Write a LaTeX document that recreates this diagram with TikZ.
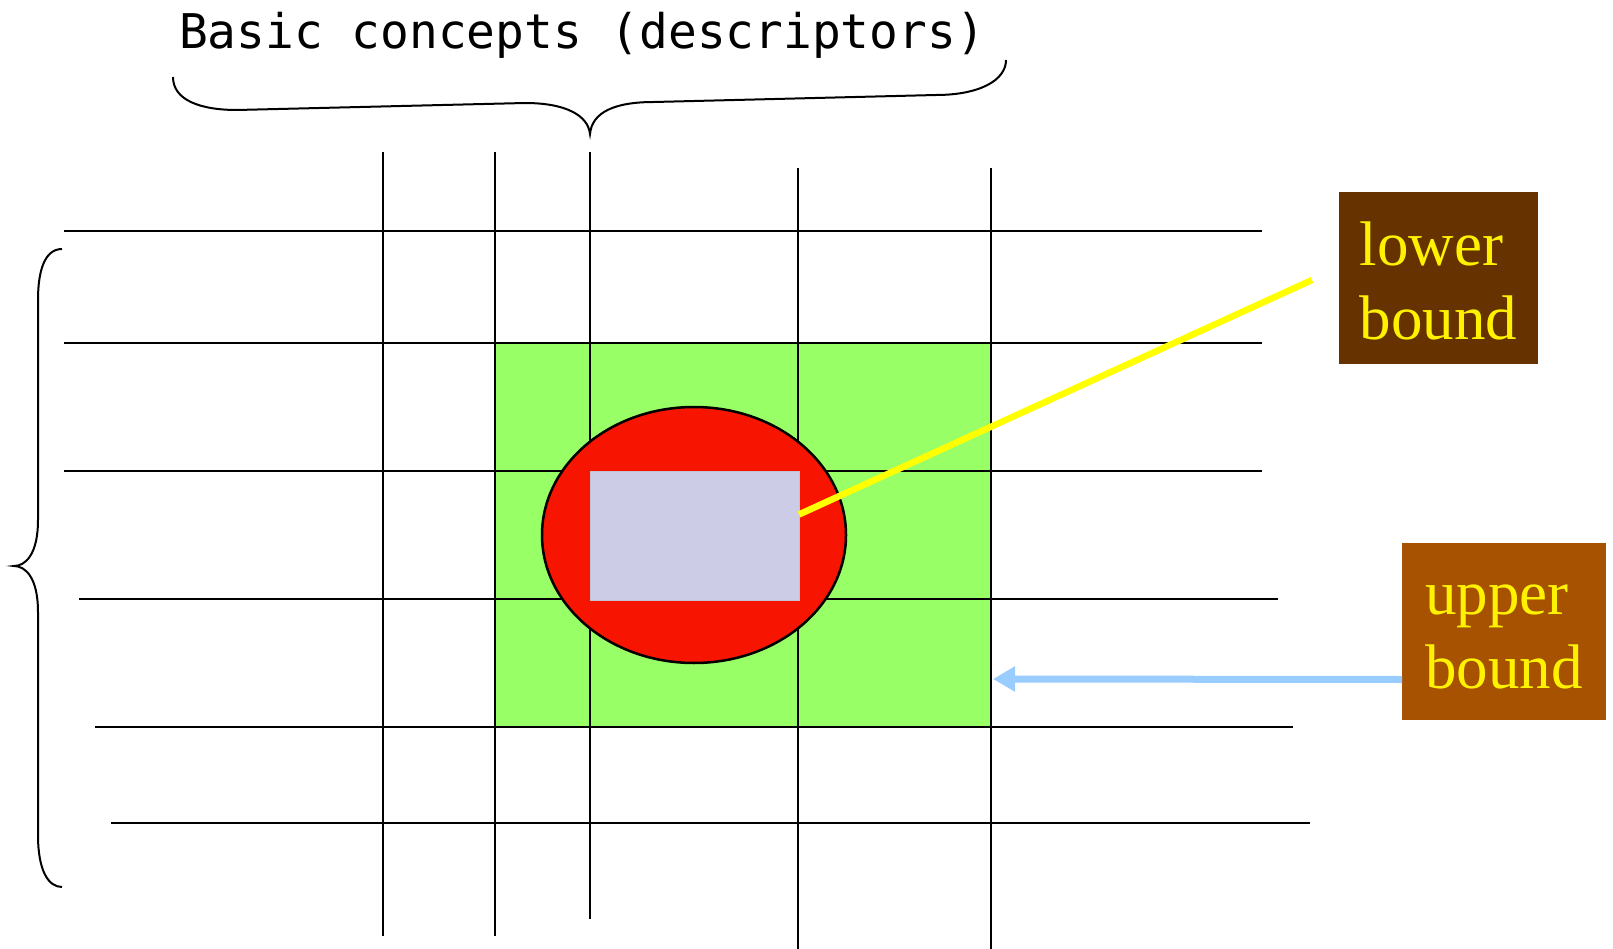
\documentclass[tikz,border=0pt]{standalone}
\usepackage{fontspec}
\setmainfont{Liberation Serif}
\newfontfamily\titlefont{DejaVu Sans Mono}
\usepackage{tikz}
\usetikzlibrary{positioning,calc,shapes.geometric,arrows.meta}
\definecolor{upfill}{HTML}{99FF66}
\definecolor{concept}{HTML}{F71400}
\definecolor{lowfill}{HTML}{CCCCE6}
\definecolor{lowbox}{HTML}{663300}
\definecolor{upbox}{HTML}{A65200}
\definecolor{ubline}{HTML}{99CCFF}
\definecolor{lbline}{HTML}{FFFF00}

\begin{document}
\begin{tikzpicture}[x=1pt, y=-1pt,
    grid/.style={line width=2.5pt, black},
    brace/.style={line width=2pt, black},
    region/.style={inner sep=0pt, outer sep=0pt},
    bndlbl/.style={inner sep=0pt, outer sep=0pt, align=left, text=yellow,
                   font=\fontsize{63}{74}\selectfont},
    lbarrow/.style={line width=6.5pt, lbline},
    ubarrow/.style={line width=7pt, ubline, -{Triangle[length=22pt, width=24pt]}}
  ]
    \useasboundingbox (0,0) rectangle (1613,949);

    \node[region, fill=upfill, minimum width=496pt, minimum height=384pt] (upper) at (743,535) {};

    \foreach \yy/\xa/\xb in {231/64/1262, 343/64/1262, 471/64/1262, 599/79/1278, 727/95/1293, 823/111/1310}
      \draw[grid] (\xa,\yy) -- (\xb,\yy);
    \foreach \xx/\ya/\yb in {383/152/936, 495/152/936, 590/152/919, 798/168/949, 991/168/949}
      \draw[grid] (\xx,\ya) -- (\xx,\yb);

    \node[region, ellipse, fill=concept, draw=black, line width=2.5pt,
          minimum width=304pt, minimum height=256pt] (concept) at (694,535) {};
    \node[region, fill=lowfill, draw=lowfill!85!gray, line width=0.8pt,
          minimum width=209pt, minimum height=129pt] (lower) at (694.5,535.5) {};

    \node[anchor=base, inner sep=0pt, font=\titlefont\fontsize{47.8}{50}\selectfont] (title) at (582,48.5)
      {Basic concepts (descriptors)};

    \draw[brace] (173,77) .. controls (173,100) and (200,110) .. (237,110) -- (525,103)
      .. controls (565,103) and (588,115) .. (590,134)
      .. controls (592,112) and (615,102) .. (654,102) -- (936,95)
      .. controls (980,95) and (1006,80) .. (1006,60);
    \draw[brace] (62,249) .. controls (45,249) and (38,270) .. (38,300) -- (38,520)
      .. controls (38,555) and (25,566) .. (14,566)
      .. controls (25,566) and (38,577) .. (38,612) -- (38,835)
      .. controls (38,870) and (48,887) .. (62,887);

    \node[bndlbl, fill=lowbox, minimum width=199pt, minimum height=172pt] (lowlbl) at (1438.5,278)
      {\rule{0pt}{49pt}lower\\bound};
    \node[bndlbl, fill=upbox, minimum width=204pt, minimum height=177pt] (uplbl) at (1504,631.5)
      {\rule{0pt}{41pt}upper\\bound};

    \draw[lbarrow] ($(lower.east)+(0,-21)$) -- ($(lowlbl.west)+(-27,2)$);
    \draw[ubarrow] ($(uplbl.west)+(0,48)$) -- ($(upper.east)+(2,144)$);
\end{tikzpicture}
\end{document}
